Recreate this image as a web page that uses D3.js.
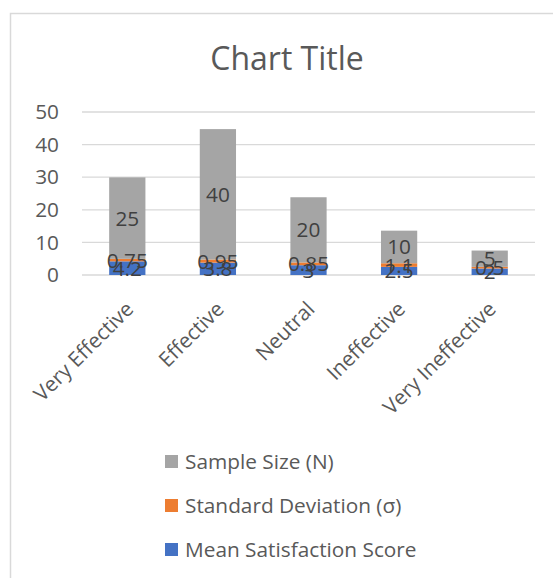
<!DOCTYPE html>
<html>
<head>
<meta charset="utf-8">
<script src="https://cdn.jsdelivr.net/npm/d3@7"></script>
<style>
html,body{margin:0;padding:0;background:#fff;}
svg{display:block;font-family:"Open Sans",sans-serif;}
</style>
</head>
<body>
<svg id="chart" width="553" height="578"></svg>
<script>
const categories = ["Very Effective","Effective","Neutral","Ineffective","Very Ineffective"];
const meanScore = [4.2, 3.8, 3, 2.5, 2];
const stdDev = [0.75, 0.95, 0.85, 1.1, 0.5];
const sampleSize = [25, 40, 20, 10, 5];
const yTicks = [0, 10, 20, 30, 40, 50];
const seriesNames = ["Mean Satisfaction Score", "Standard Deviation (σ)", "Sample Size (N)"];
const seriesColors = ["#4472c4", "#ed7d31", "#a5a5a5"];

const svg = d3.select("#chart");
const W = 553, H = 578;
const FS = 20.8;

// chart border
svg.append("path")
  .attr("d", `M10.5,${H+5} L10.5,13.5 L${W+5},13.5`)
  .attr("fill","none").attr("stroke","#d9d9d9").attr("stroke-width",1.5);

// title
svg.append("text").attr("x",287).attr("y",70)
  .attr("text-anchor","middle").attr("font-size",32).attr("fill","#595959")
  .text("Chart Title");

const x = d3.scaleBand().domain(categories).range([82,535]).paddingInner(0.6).paddingOuter(0.3);
const y = d3.scaleLinear().domain([0,50]).range([275,112]);

// gridlines
svg.append("g").selectAll("line").data(yTicks).join("line")
  .attr("x1",82).attr("x2",535)
  .attr("y1",d=>y(d)).attr("y2",d=>y(d))
  .attr("stroke","#d9d9d9").attr("stroke-width",1.3);

// y axis labels
const yAxis = d3.axisLeft(y).tickValues(yTicks).tickSize(0).tickPadding(0);
const yg = svg.append("g").attr("transform","translate(59,0)").call(yAxis);
yg.select(".domain").remove();
yg.selectAll("text").attr("font-size",FS).attr("fill","#595959")
  .attr("font-family","'Open Sans',sans-serif");

// stack data
const table = categories.map((c,i)=>({cat:c, s0:meanScore[i], s1:stdDev[i], s2:sampleSize[i]}));
const stack = d3.stack().keys(["s0","s1","s2"])(table);

const groups = svg.append("g").selectAll("g").data(stack).join("g")
  .attr("fill",(d,i)=>seriesColors[i]);
groups.selectAll("rect").data(d=>d).join("rect")
  .attr("x",d=>x(d.data.cat)).attr("width",x.bandwidth())
  .attr("y",d=>y(d[1])).attr("height",d=>y(d[0])-y(d[1]));

// data labels
const lg = svg.append("g");
stack.forEach((s,si)=>{
  lg.selectAll(null).data(s).join("text")
    .attr("x",d=>x(d.data.cat)+x.bandwidth()/2)
    .attr("y",d=>y((d[0]+d[1])/2))
    .attr("dy","0.36em")
    .attr("text-anchor","middle").attr("font-size",FS).attr("fill","#404040")
    .text(d=>d.data[s.key]);
});

// x axis labels
const xAxis = d3.axisBottom(x).tickSize(0).tickPadding(0);
const xg = svg.append("g").attr("transform","translate(0,275)").call(xAxis);
xg.select(".domain").remove();
xg.selectAll(".tick text")
  .attr("font-size",FS).attr("fill","#595959").attr("font-family","'Open Sans',sans-serif")
  .attr("text-anchor","end")
  .attr("transform","translate(-3,25) rotate(-45)")
  .attr("x",0).attr("y",0).attr("dy","0.71em");

// legend
const legendOrder = [2,1,0];
const legendY = [462, 506, 550];
const leg = svg.append("g");
legendOrder.forEach((si,k)=>{
  leg.append("rect").attr("x",165).attr("y",legendY[k]-7).attr("width",13).attr("height",13)
    .attr("fill",seriesColors[si]);
  leg.append("text").attr("x",185).attr("y",legendY[k]).attr("dy","0.36em")
    .attr("font-size",FS).attr("fill","#595959").text(seriesNames[si]);
});
</script>
</body>
</html>
